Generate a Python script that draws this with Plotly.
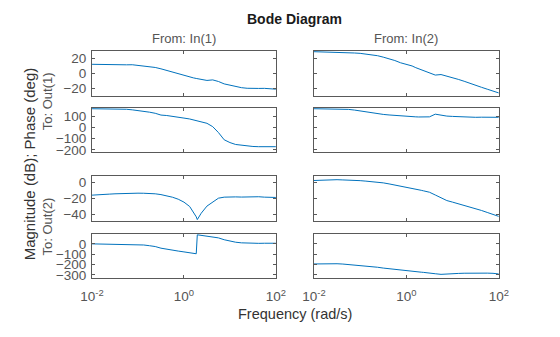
import plotly.graph_objects as go

# ---- data ----
freq = [0.01, 0.0133, 0.0178, 0.0237, 0.0316, 0.0422, 0.0562, 0.075, 0.1, 0.133,
        0.178, 0.237, 0.316, 0.422, 0.562, 0.75, 1.0, 1.33, 1.6, 1.85,
        1.95, 2.1, 2.37, 3.16, 4.22, 5.62, 7.5, 10, 13.3, 17.8,
        23.7, 31.6, 42.2, 56.2, 75, 100]

mag_o1_i1 = [12.0, 11.8, 11.4, 11.2, 11.5, 11.6, 11.3, 11.4, 10.6, 9.8,
             9.0, 7.8, 6.0, 3.8, 1.5, -1.0, -3.2, -4.8, -6.0, -6.8,
             -7.0, -7.6, -8.3, -9.4, -8.7, -10.8, -14.0, -16.0, -17.5, -19.0,
             -19.8, -20.2, -20.0, -19.9, -20.5, -21.0]
mag_o1_i2 = [28.7, 28.6, 28.3, 28.2, 27.8, 27.6, 27.2, 27.0, 26.5, 25.6,
             24.8, 23.4, 21.5, 19.5, 17.0, 14.0, 12.0, 9.8, 7.5, 6.0,
             5.5, 5.0, 3.8, 0.5, -2.3, -1.6, -3.5, -5.5, -8.0, -10.5,
             -13.5, -16.0, -18.5, -21.0, -23.5, -26.0]
ph_o1_i1 = [169, 169, 168, 168, 167, 166, 164, 159, 153, 146,
            138, 128, 112, 108, 102, 93, 85, 77, 70, 64,
            61, 58, 53, 38, 8, -45, -110, -135, -152, -160,
            -166, -170, -172, -174, -176, -172]
ph_o1_i2 = [169, 169, 168, 168, 167, 166, 163, 157, 148, 140,
            132, 124, 118, 113, 108, 104, 99, 97, 96, 95,
            95, 94, 94, 96, 120, 109, 103, 100, 97, 95,
            93, 92, 93, 91, 93, 92]
mag_o2_i1 = [-15.7, -15.0, -14.8, -14.4, -14.0, -13.6, -13.5, -13.3, -13.2, -13.3,
             -13.5, -14.0, -15.0, -16.5, -18.3, -20.8, -24.5, -30.0, -36.5, -43.0,
             -46.5, -43.5, -38.5, -29.5, -24.0, -19.5, -18.2, -17.8, -17.9, -18.1,
             -17.8, -18.0, -17.7, -18.2, -18.0, -18.6]
mag_o2_i2 = [2.8, 3.2, 3.6, 3.9, 3.8, 3.5, 3.4, 3.0, 2.6, 2.0,
             1.4, 0.8, -0.2, -1.5, -2.8, -4.3, -5.7, -7.0, -8.0, -8.8,
             -9.2, -9.6, -10.3, -12.0, -15.5, -19.5, -22.5, -24.5, -26.5, -28.3,
             -30.5, -32.8, -35.0, -37.5, -40.0, -42.5]
ph_o2_i1 = [0, -1, -2, 0, -1, -2, -2, -2, -6, -11,
            -18, -26, -42, -53, -61, -70, -78, -86, -91, -96,
            88, 86, 83, 79, 72, 58, 40, 26, 16, 10,
            7, 6, 5, 6, 5, 6]
ph_o2_i2 = [-195, -193, -192, -191, -193, -196, -200, -204, -210, -215,
            -220, -227, -235, -242, -250, -256, -262, -268, -271, -273,
            -274, -275, -277, -280, -290, -296, -291, -288, -287, -285,
            -283, -283, -280, -284, -286, -292]

x_tickvals = [0.01, 1, 100]
x_ticktext = ["10<sup>-2</sup>", "10<sup>0</sup>", "10<sup>2</sup>"]
row_ticks = [[20, 0, -20], [100, 0, -100, -200], [0, -20, -40], [0, -100, -200, -300]]
row_ranges = [[-29.5, 29.9], [-222, 175], [-48.3, 8.3], [-334, 95]]

grid = [[mag_o1_i1, mag_o1_i2], [ph_o1_i1, ph_o1_i2],
        [mag_o2_i1, mag_o2_i2], [ph_o2_i1, ph_o2_i2]]

# ---- layout geometry ----
W, H = 560, 337
col_px = [(83.3, 274.7), (314.3, 506.7)]
row_px = [(50.7, 96.3), (109.0, 154.0), (178.3, 224.0), (237.3, 282.3)]

LINE = "#0072BD"
AX = "#595959"
TXT = "#555555"
FONT = "Liberation Sans, Arial, sans-serif"

fig = go.Figure()
layout = dict(width=W, height=H, margin=dict(l=0, r=0, t=0, b=0),
              paper_bgcolor="white", plot_bgcolor="white", showlegend=False,
              font=dict(family=FONT, size=13, color=TXT))

k = 0
for r in range(4):
    for c in range(2):
        k += 1
        xa = "x" if k == 1 else f"x{k}"
        ya = "y" if k == 1 else f"y{k}"
        fig.add_trace(go.Scatter(x=freq, y=grid[r][c], mode="lines",
                                 line=dict(color=LINE, width=1),
                                 xaxis=xa, yaxis=ya, hoverinfo="skip"))
        x0, x1 = col_px[c]
        y0, y1 = row_px[r]
        xname = "xaxis" if k == 1 else f"xaxis{k}"
        yname = "yaxis" if k == 1 else f"yaxis{k}"
        layout[xname] = dict(
            domain=[x0 / W, x1 / W], anchor=ya, type="log", range=[-2, 2],
            tickvals=x_tickvals, ticktext=x_ticktext,
            showticklabels=(r == 3), ticks="inside", ticklen=3, tickwidth=1,
            tickcolor=AX, showline=True, linecolor=AX, linewidth=1,
            mirror="ticks", showgrid=False, zeroline=False,
            ticklabelstandoff=6,
            tickfont=dict(family=FONT, size=13.5, color=TXT))
        layout[yname] = dict(
            domain=[1 - y1 / H, 1 - y0 / H], anchor=xa, range=row_ranges[r],
            tickvals=row_ticks[r], showticklabels=(c == 0), ticks="inside",
            ticklen=3, tickwidth=1, tickcolor=AX, showline=True, linecolor=AX,
            linewidth=1, mirror="ticks", showgrid=False, zeroline=False,
            ticklabelstandoff=2,
            tickfont=dict(family=FONT, size=13.5, color=TXT))

fig.update_layout(**layout)

ann = [
    dict(text="<b>Bode Diagram</b>", x=294.5 / W, y=1 - 18.3 / H,
         font=dict(size=14, color="#1a1a1a")),
    dict(text="From: In(1)", x=179 / W, y=1 - 38.3 / H, font=dict(size=13, color=TXT)),
    dict(text="From: In(2)", x=410.5 / W, y=1 - 38.3 / H, font=dict(size=13, color=TXT)),
    dict(text="Frequency (rad/s)", x=295 / W, y=1 - 319 / H,
         font=dict(size=14.5, color="#333333")),
    dict(text="Magnitude (dB); Phase (deg)", x=18 / W, y=1 - 166 / H, textangle=-90,
         font=dict(size=15, color="#333333")),
    dict(text="To: Out(1)", x=37 / W, y=1 - 102.5 / H, textangle=-90,
         font=dict(size=13, color=TXT)),
    dict(text="To: Out(2)", x=37 / W, y=1 - 230 / H, textangle=-90,
         font=dict(size=13, color=TXT)),
]
for a in ann:
    fig.add_annotation(xref="paper", yref="paper", showarrow=False,
                       xanchor="center", yanchor="middle", **a)

fig.write_html("out.html")
